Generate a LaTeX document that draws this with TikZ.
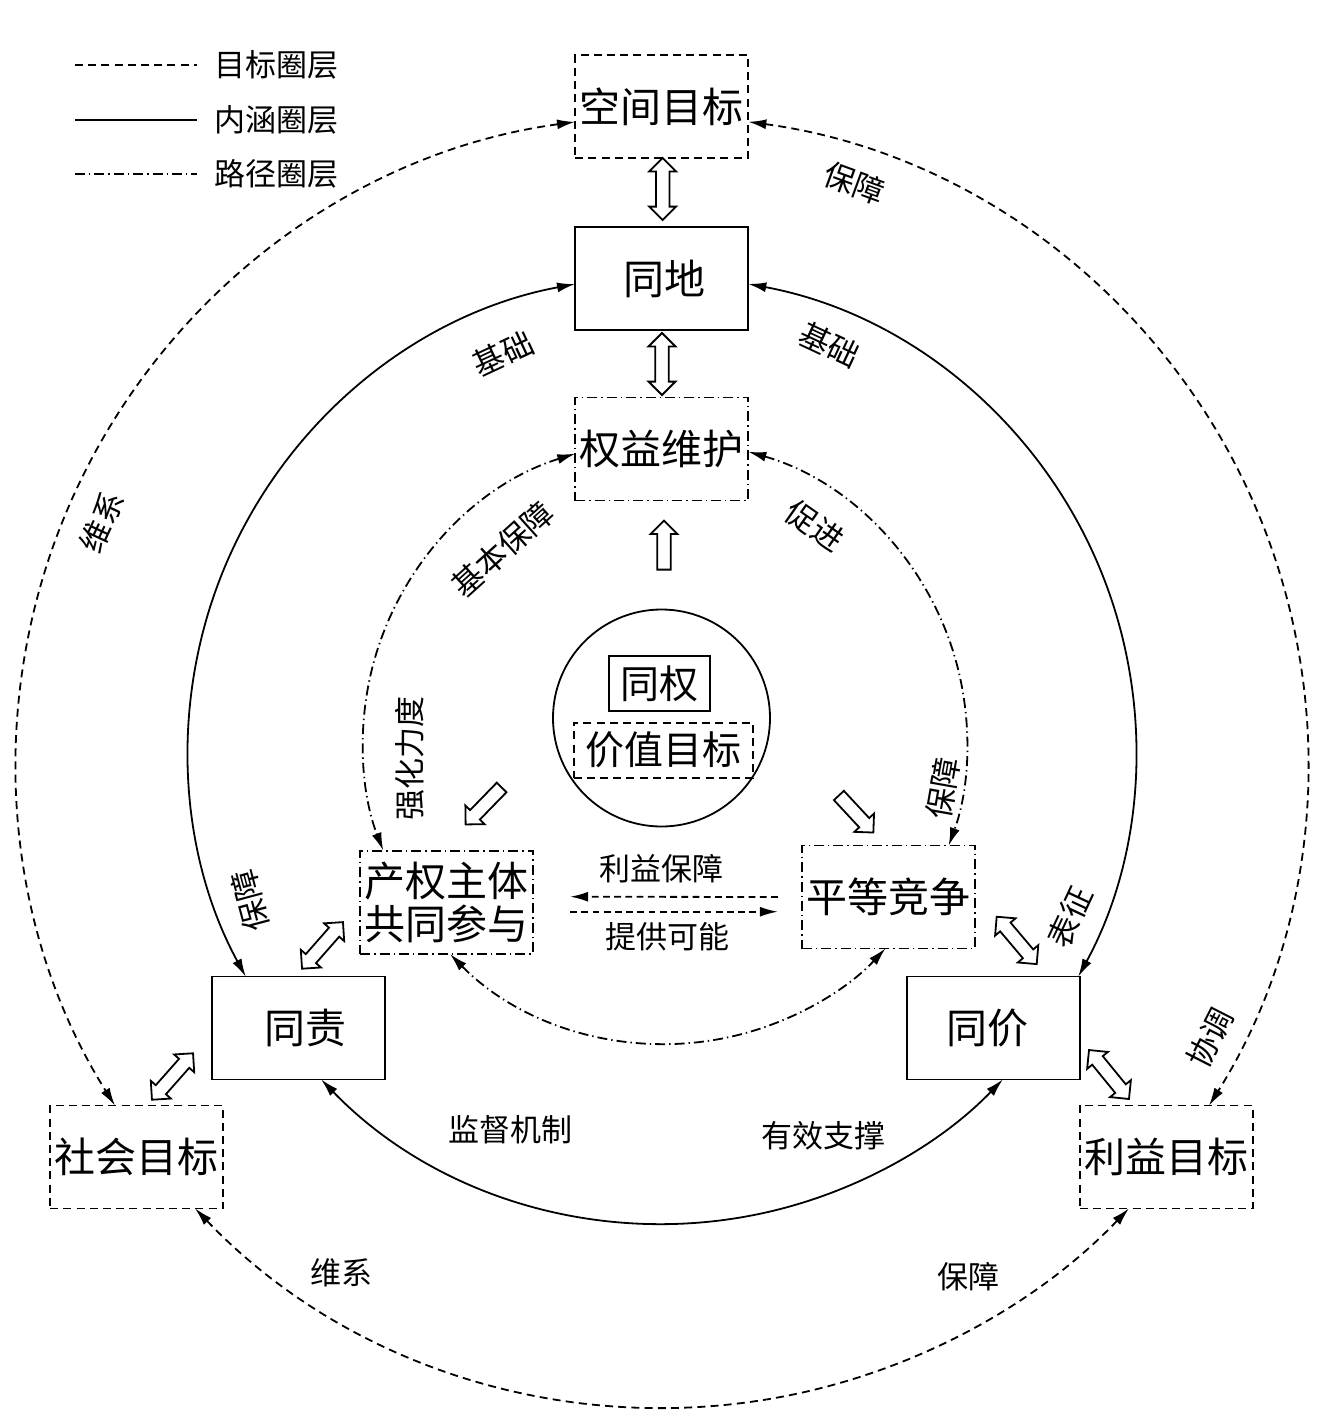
\documentclass[tikz,border=0pt]{standalone}
\usepackage{fontspec}
\setmainfont{Noto Sans CJK SC}
\usetikzlibrary{arrows.meta,shapes.arrows,calc}
\begin{document}
\begin{tikzpicture}[x=0.5pt,y=-0.5pt,
  line width=0.9pt,
  >={Latex[length=9pt,width=5pt]},
  dsh/.style={dash pattern=on 4pt off 2.6pt},
  fdsh/.style={dash pattern=on 3.4pt off 2.2pt},
  dshd/.style={dash pattern=on 5pt off 2pt on 0.7pt off 2pt},
  box/.style={minimum width=86.5pt,minimum height=51.5pt,inner sep=0pt,
    font=\fontsize{20.5pt}{21.5pt}\selectfont,align=center},
  sbox/.style={box,draw},
  dbox/.style={box,draw,dsh},
  ddbox/.style={box,draw,dshd},
  lab/.style={font=\fontsize{15.5pt}{18pt}\selectfont,inner sep=0pt},
  dharr/.style={double arrow,draw,fill=white,inner xsep=0pt,inner ysep=2.95pt,
    minimum width=12.5pt,double arrow head extend=3.3pt,minimum height=31pt},
  sharr/.style={single arrow,draw,fill=white,inner xsep=0pt,inner ysep=2.95pt,
    minimum width=12.5pt,single arrow head extend=3.3pt,minimum height=25pt}
]
\useasboundingbox (0,0) rectangle (1327,1425);

% legend
\coordinate (l1a) at (75,65);  \coordinate (l1b) at (197,65);
\coordinate (l2a) at (75,120); \coordinate (l2b) at (197,120);
\coordinate (l3a) at (75,174); \coordinate (l3b) at (197,174);
\draw[dsh] (l1a) -- (l1b);
\draw[line width=1.3pt] (l2a) -- (l2b);
\draw[dshd] (l3a) -- (l3b);
\node[lab] (lg1) at (276,65) {目标圈层};
\node[lab] (lg2) at (276,120) {内涵圈层};
\node[lab] (lg3) at (276,174) {路径圈层};

% boxes
\node[dbox]  (kj) at (661.7,106.5) {空间目标};
\node[sbox]  (td) at (661.7,278.5) {\hspace{3pt}同地};
\node[ddbox] (qy) at (661.7,449)   {权益维护};
\node[ddbox] (cq) at (446.7,902.3) {产权主体\\共同参与};
\node[ddbox] (pd) at (888.2,897)   {平等竞争};
\node[sbox]  (tz) at (298.3,1028)  {\hspace{7pt}同责};
\node[sbox]  (tj) at (993.8,1028)  {同价\hspace{6pt}};
\node[dbox]  (sh) at (136.7,1157)  {社会目标};
\node[dbox]  (ly) at (1166.3,1157) {利益目标};

% centre
\node[draw,circle,minimum size=108.5pt,inner sep=0pt] (yuan) at (661.5,718) {};
\node[draw,minimum width=50.5pt,minimum height=27.5pt,inner sep=0pt,
  font=\fontsize{19.5pt}{20pt}\selectfont] (tq) at (659.5,683.5) {同权};
\node[draw,dsh,minimum width=89.7pt,minimum height=27.5pt,inner sep=0pt,
  font=\fontsize{19.5pt}{20pt}\selectfont] (jz) at (663.3,750.2) {价值目标};

% ring centres
\coordinate (Oo) at (662,762);
\coordinate (Os) at (662,750);
\coordinate (Od) at (665,742);

% outer dashed ring
\draw[dsh,<->] ($(Oo)+(262.26:646)$) arc[start angle=262.26,end angle=147.86,radius=646];
\draw[dsh,<->] ($(Oo)+(-82.32:646)$) arc[start angle=-82.32,end angle=32.14,radius=646];
\draw[dsh,<->] ($(Oo)+(136.3:646)$) arc[start angle=136.3,end angle=43.7,radius=646];

% solid ring
\draw[<->] ($(Os)+(259.42:474)$) arc[start angle=259.42,end angle=151.43,radius=474];
\draw[<->] ($(Os)+(-79.51:474)$) arc[start angle=-79.51,end angle=28.57,radius=474];
\draw[<->] ($(Os)+(135.99:474)$) arc[start angle=135.99,end angle=44.01,radius=474];

% dash-dot ring
\draw[dshd,<->] ($(Od)+(252.72:302)$) arc[start angle=252.72,end angle=158.91,radius=302];
\draw[dshd,<->] ($(Od)+(-73.99:302)$) arc[start angle=-73.99,end angle=20.08,radius=302];
\draw[dshd,<->] ($(Od)+(135.42:302)$) arc[start angle=135.42,end angle=43.08,radius=302];

% straight dashed arrows
\draw[fdsh,->] ($(pd.west)+(-23,0)$) -- ($(cq.east)+(36,-5.6)$);
\draw[fdsh,->] ($(cq.east)+(36,9.4)$) -- ($(pd.west)+(-23,14.7)$);

% hollow arrows
\node[dharr,rotate=90] (a1) at (662.7,189) {};
\node[dharr,rotate=90] (a2) at (662,364) {};
\node[sharr,minimum height=24.5pt,rotate=90] (a3) at (664,548.5) {};
\node[sharr,minimum height=25.8pt,rotate=225.8] (a4) at (486,803.5) {};
\node[sharr,minimum height=25.3pt,rotate=-47.1] (a5) at (853.8,811.5) {};
\node[dharr,rotate=48.7] (a6) at (322.5,945.4) {};
\node[dharr,rotate=48.5] (a7) at (172.5,1076.5) {};
\node[dharr,rotate=-49.8] (a8) at (1016.7,940.4) {};
\node[dharr,minimum height=31.6pt,rotate=-50.8] (a9) at (1109,1074.5) {};

% labels
\node[lab,rotate=65]  (t1)  at (102,522)   {维系};
\node[lab,rotate=-20] (t2)  at (855,183)   {保障};
\node[lab,rotate=63]  (t3)  at (1210,1038) {协调};
\node[lab,rotate=25]  (t4)  at (503,354)   {基础};
\node[lab,rotate=-25] (t5)  at (830,345)   {基础};
\node[lab,rotate=105] (t6)  at (250,901)   {保障};
\node[lab,rotate=80]  (t7)  at (943,788)   {保障};
\node[lab,rotate=65]  (t8)  at (1070,917)  {表征};
\node[lab,rotate=42]  (t9)  at (503,549)   {基本保障};
\node[lab,rotate=90]  (t10) at (410,758)   {强化力度};
\node[lab,rotate=-35] (t11) at (815,526)   {促进};
\node[lab] (t12) at (510,1130)  {监督机制};
\node[lab] (t13) at (823,1136)  {有效支撑};
\node[lab] (t14) at (341,1273)  {维系};
\node[lab] (t15) at (968,1277)  {保障};
\node[lab] (t16) at (661,869)   {利益保障};
\node[lab] (t17) at (667,937)   {提供可能};
\end{tikzpicture}
\end{document}
